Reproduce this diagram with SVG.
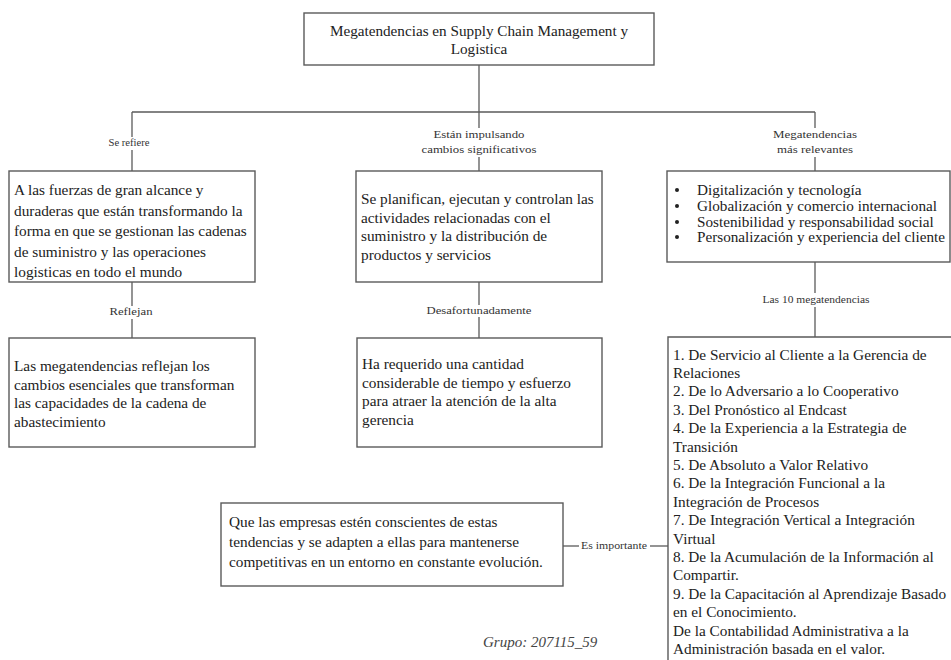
<svg xmlns="http://www.w3.org/2000/svg" width="951" height="660" viewBox="0 0 951 660">
  <style>
    .box { fill: #ffffff; stroke: #5a5a5a; stroke-width: 1.4; }
    .link { stroke: #5a5a5a; stroke-width: 1.3; fill: none; }
    .body { font-family: "Liberation Serif", "Times New Roman", serif; font-size: 15.3px; fill: #222; }
    .list { font-family: "Liberation Serif", "Times New Roman", serif; font-size: 15.2px; fill: #222; }
    .lbl { font-family: "Liberation Serif", "Times New Roman", serif; font-size: 9.5px; fill: #333; text-anchor: middle; }
    .title { font-family: "Liberation Serif", "Times New Roman", serif; font-size: 15.2px; fill: #222; text-anchor: middle; }
    .foot { font-family: "Liberation Serif", "Times New Roman", serif; font-size: 15px; font-style: italic; fill: #444; }
  </style>
  <rect width="951" height="660" fill="#ffffff"/>

  <!-- connectors -->
  <g id="connectors">
    <line class="link" x1="479" y1="65" x2="479" y2="112"/>
    <line class="link" x1="132" y1="112" x2="815" y2="112"/>
    <!-- left branch -->
    <line class="link" x1="132" y1="112" x2="132" y2="137"/>
    <line class="link" x1="132" y1="150" x2="132" y2="171"/>
    <line class="link" x1="132" y1="282" x2="132" y2="306"/>
    <line class="link" x1="132" y1="319" x2="132" y2="338"/>
    <!-- middle branch -->
    <line class="link" x1="479" y1="112" x2="479" y2="128"/>
    <line class="link" x1="479" y1="157" x2="479" y2="171"/>
    <line class="link" x1="479" y1="282" x2="479" y2="305"/>
    <line class="link" x1="479" y1="317" x2="479" y2="338"/>
    <!-- right branch -->
    <line class="link" x1="815" y1="112" x2="815" y2="128"/>
    <line class="link" x1="815" y1="157" x2="815" y2="171"/>
    <line class="link" x1="815" y1="262" x2="815" y2="293"/>
    <line class="link" x1="815" y1="307" x2="815" y2="337"/>
    <!-- side link -->
    <line class="link" x1="563" y1="546" x2="579" y2="546"/>
    <line class="link" x1="650" y1="546" x2="668" y2="546"/>

    <text class="lbl" x="129" y="146" textLength="41" lengthAdjust="spacingAndGlyphs">Se refiere</text>
    <text class="lbl" x="479" y="138" textLength="91" lengthAdjust="spacingAndGlyphs">Están impulsando</text>
    <text class="lbl" x="479" y="153" textLength="115" lengthAdjust="spacingAndGlyphs">cambios significativos</text>
    <text class="lbl" x="815" y="138" textLength="84" lengthAdjust="spacingAndGlyphs">Megatendencias</text>
    <text class="lbl" x="815" y="153" textLength="76" lengthAdjust="spacingAndGlyphs">más relevantes</text>
    <text class="lbl" x="131" y="315" textLength="43" lengthAdjust="spacingAndGlyphs">Reflejan</text>
    <text class="lbl" x="479" y="314" textLength="105" lengthAdjust="spacingAndGlyphs">Desafortunadamente</text>
    <text class="lbl" x="816" y="303" textLength="107" lengthAdjust="spacingAndGlyphs">Las 10 megatendencias</text>
    <text class="lbl" x="614" y="549" textLength="66" lengthAdjust="spacingAndGlyphs">Es importante</text>
  </g>

  <!-- root -->
  <g id="node-root">
    <rect class="box" x="304" y="13" width="350" height="52"/>
    <text class="title" x="479" y="36">Megatendencias en Supply Chain Management y</text>
    <text class="title" x="479" y="54">Logistica</text>
  </g>

  <!-- left column -->
  <g id="node-fuerzas">
    <rect class="box" x="9" y="171" width="246" height="111"/>
    <text class="body" x="14" y="195">A las fuerzas de gran alcance y</text>
    <text class="body" x="14" y="215.5">duraderas que están transformando la</text>
    <text class="body" x="14" y="236">forma en que se gestionan las cadenas</text>
    <text class="body" x="14" y="256.5">de suministro y las operaciones</text>
    <text class="body" x="14" y="277">logisticas en todo el mundo</text>
  </g>
  <g id="node-reflejan">
    <rect class="box" x="9" y="338" width="246" height="109"/>
    <text class="body" x="14" y="371">Las megatendencias reflejan los</text>
    <text class="body" x="14" y="389.5">cambios esenciales que transforman</text>
    <text class="body" x="14" y="408">las capacidades de la cadena de</text>
    <text class="body" x="14" y="426.5">abastecimiento</text>
  </g>

  <!-- middle column -->
  <g id="node-planifican">
    <rect class="box" x="356" y="171" width="246" height="111"/>
    <text class="body" x="361" y="204">Se planifican, ejecutan y controlan las</text>
    <text class="body" x="361" y="222.5">actividades relacionadas con el</text>
    <text class="body" x="361" y="241">suministro y la distribución de</text>
    <text class="body" x="361" y="259.5">productos y servicios</text>
  </g>
  <g id="node-requerido">
    <rect class="box" x="357" y="338" width="245" height="109"/>
    <text class="body" x="362" y="369">Ha requerido una cantidad</text>
    <text class="body" x="362" y="387.5">considerable de tiempo y esfuerzo</text>
    <text class="body" x="362" y="406">para atraer la atención de la alta</text>
    <text class="body" x="362" y="424.5">gerencia</text>
  </g>

  <!-- right column -->
  <g id="node-relevantes">
    <rect class="box" x="667" y="171" width="283" height="91"/>
    <g class="list">
      <circle cx="677" cy="190" r="2" fill="#222"/>
      <circle cx="677" cy="206" r="2" fill="#222"/>
      <circle cx="677" cy="222" r="2" fill="#222"/>
      <circle cx="677" cy="237" r="2" fill="#222"/>
      <text x="697" y="194.5">Digitalización y tecnología</text>
      <text x="697" y="210.5">Globalización y comercio internacional</text>
      <text x="697" y="226.5">Sostenibilidad y responsabilidad social</text>
      <text x="697" y="242">Personalización y experiencia del cliente</text>
    </g>
  </g>
  <g id="node-diez">
    <path class="box" d="M951,337 H668 V660"/>
    <text class="body" x="673" y="359.5">1. De Servicio al Cliente a la Gerencia de</text>
    <text class="body" x="673" y="377.9">Relaciones</text>
    <text class="body" x="673" y="396.3">2. De lo Adversario a lo Cooperativo</text>
    <text class="body" x="673" y="414.7">3. Del Pronóstico al Endcast</text>
    <text class="body" x="673" y="433.1">4. De la Experiencia a la Estrategia de</text>
    <text class="body" x="673" y="451.5">Transición</text>
    <text class="body" x="673" y="469.9">5. De Absoluto a Valor Relativo</text>
    <text class="body" x="673" y="488.3">6. De la Integración Funcional a la</text>
    <text class="body" x="673" y="506.7">Integración de Procesos</text>
    <text class="body" x="673" y="525.1">7. De Integración Vertical a Integración</text>
    <text class="body" x="673" y="543.5">Virtual</text>
    <text class="body" x="673" y="561.9">8. De la Acumulación de la Información al</text>
    <text class="body" x="673" y="580.3">Compartir.</text>
    <text class="body" x="673" y="598.7">9. De la Capacitación al Aprendizaje Basado</text>
    <text class="body" x="673" y="617.1">en el Conocimiento.</text>
    <text class="body" x="673" y="635.5">De la Contabilidad Administrativa a la</text>
    <text class="body" x="673" y="653.9">Administración basada en el valor.</text>
  </g>

  <!-- bottom-left note -->
  <g id="node-importante">
    <rect class="box" x="221" y="503" width="342" height="83"/>
    <text class="body" x="229" y="527">Que las empresas estén conscientes de estas</text>
    <text class="body" x="229" y="547">tendencias y se adapten a ellas para mantenerse</text>
    <text class="body" x="229" y="567">competitivas en un entorno en constante evolución.</text>
  </g>

  <text class="foot" x="483" y="647">Grupo: 207115_59</text>
</svg>
